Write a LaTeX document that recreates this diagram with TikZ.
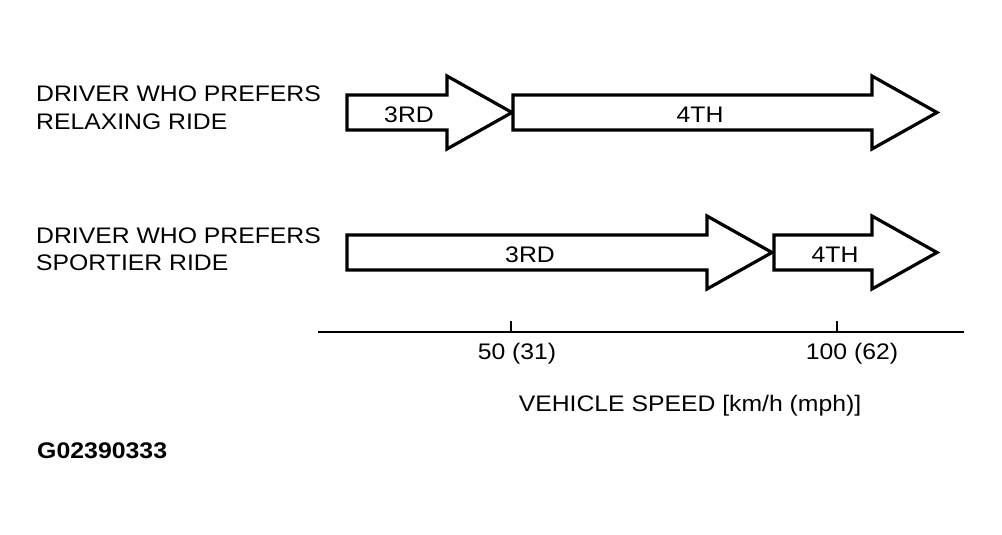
\documentclass[tikz,border=0pt]{standalone}
\usepackage{fontspec}
\setmainfont{Liberation Sans}[FakeStretch=1.1]
\begin{document}
\begin{tikzpicture}[x=1pt,y=-1pt,
  gear/.style={draw=black,line width=3.2pt,fill=white,line join=miter},
  lbl/.style={inner sep=0pt,anchor=base west,font=\fontsize{22.5}{27}\selectfont},
  ctr/.style={inner sep=0pt,anchor=base,font=\fontsize{22.5}{27}\selectfont},
  axisline/.style={draw=black,line width=2pt}]
\useasboundingbox[fill=white] (0,0) rectangle (1002,535);
% top row arrows
\draw[gear] (347,95) -- (447,95) -- (447,76) -- (512,112.5) -- (447,149) -- (447,130) -- (347,130) -- cycle;
\draw[gear] (513,95) -- (872,95) -- (872,76) -- (937,112.5) -- (872,149) -- (872,130) -- (513,130) -- cycle;
% bottom row arrows
\draw[gear] (347,235) -- (707,235) -- (707,216) -- (772,252.5) -- (707,289) -- (707,270) -- (347,270) -- cycle;
\draw[gear] (774,235) -- (872,235) -- (872,216) -- (937,252.5) -- (872,289) -- (872,270) -- (774,270) -- cycle;
% arrow labels
\node[ctr] (t3) at (409,122) {3RD};
\node[ctr] (t4) at (700,122) {4TH};
\node[ctr] (b3) at (530,262) {3RD};
\node[ctr] (b4) at (835,262) {4TH};
% left labels
\node[lbl] (r1) at (36,102) {DRIVER WHO PREFERS};
\node[lbl] (r2) at (36,129) {RELAXING RIDE};
\node[lbl] (s1) at (36,243) {DRIVER WHO PREFERS};
\node[lbl] (s2) at (36,270) {SPORTIER RIDE};
% axis
\coordinate (axl) at (318,332);
\coordinate (axr) at (964,332);
\draw[axisline] (axl) -- (axr);
\coordinate (k50) at (511,332);
\coordinate (k50t) at (511,321);
\coordinate (k100) at (837,332);
\coordinate (k100t) at (837,321);
\draw[axisline] (k50) -- (k50t);
\draw[axisline] (k100) -- (k100t);
\node[ctr] (l50) at (517,359) {50 (31)};
\node[ctr] (l100) at (852,359) {100 (62)};
\node[ctr] (ax) at (690,411) {VEHICLE SPEED [km/h (mph)]};
\node[inner sep=0pt,anchor=base west,font=\fontsize{22.6}{27}\selectfont\bfseries] (id) at (37,458) {G02390333};
\end{tikzpicture}
\end{document}
